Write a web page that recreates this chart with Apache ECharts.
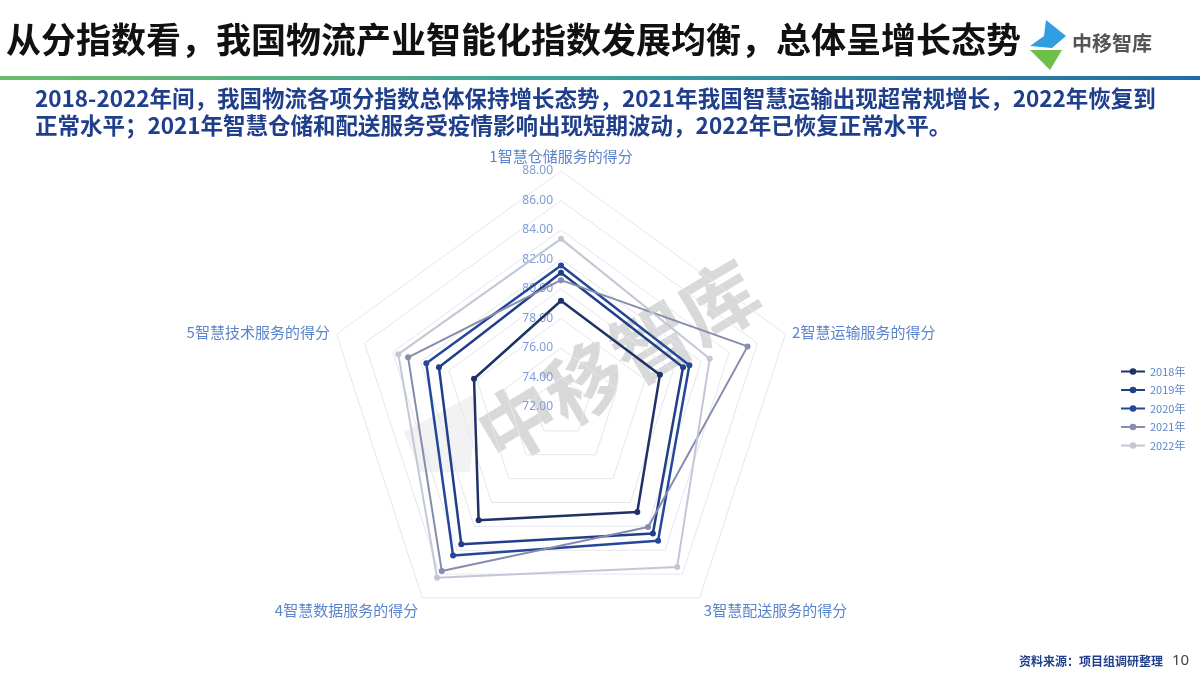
<!DOCTYPE html>
<html><head><meta charset="utf-8">
<script src="https://cdn.jsdelivr.net/npm/echarts@6/dist/echarts.min.js"></script>
<style>html,body{margin:0;padding:0;background:#fff}#c{width:1200px;height:675px}</style>
</head><body><div id="c"></div>
<script>
// ---- data ----
const indicatorNames = ['1智慧仓储服务的得分','2智慧运输服务的得分','3智慧配送服务的得分','4智慧数据服务的得分','5智慧技术服务的得分'];
const seriesNames = ['2018年','2019年','2020年','2021年','2022年'];
const v2018 = [79.2, 79.05, 80.8, 81.5, 78.2];
const v2019 = [81.1, 80.7, 82.6, 83.5, 80.7];
const v2020 = [81.6, 81.15, 83.2, 84.45, 81.6];
const v2021 = [80.6, 85.3, 82.05, 85.75, 82.9];
const v2022 = [83.4, 82.6, 85.4, 86.3, 83.6];
const axisMin = 72, axisMax = 88, axisStep = 2;
const titleText = '从分指数看，我国物流产业智能化指数发展均衡，总体呈增长态势';
const subLine1 = '2018-2022年间，我国物流各项分指数总体保持增长态势，2021年我国智慧运输出现超常规增长，2022年恢复到';
const subLine2 = '正常水平；2021年智慧仓储和配送服务受疫情影响出现短期波动，2022年已恢复正常水平。';
const sourceText = '资料来源：项目组调研整理';
const pageNo = '10';

// ---- styles ----
const colors = ['#1E3266','#213F87','#24479A','#868CAE','#C3C7D5'];
const widths = [2.5, 2.5, 2.5, 2, 2];
const allValues = [v2018, v2019, v2020, v2021, v2022];
// ECharts lays indicators counter-clockwise; reorder to get clockwise 1..5
const order = [0, 4, 3, 2, 1];
const bottomNames = [indicatorNames[2], indicatorNames[3]];
const indicator = order.map((i, k) => {
  const o = { name: indicatorNames[i], min: axisMin, max: axisMax };
  if (k === 0) o.axisLabel = { show: true };
  return o;
});
const chart = echarts.init(document.getElementById('c'));
const legendIcon = 'path://M0,4H22V6H0Z M11,2A3,3,0,1,1,11,8A3,3,0,1,1,11,2Z';
chart.setOption({
  backgroundColor: '#fff',
  animation: false,
  legend: {
    orient: 'vertical', left: 1116, top: 361, itemWidth: 24, itemHeight: 7, itemGap: 7.5,
    icon: legendIcon,
    textStyle: { color: '#5B84CC', fontSize: 11, fontFamily: 'Noto Sans CJK SC' },
    data: seriesNames
  },
  radar: {
    center: [561, 407], radius: 236, startAngle: 90,
    splitNumber: (axisMax - axisMin) / axisStep,
    shape: 'polygon',
    indicator: indicator,
    nameGap: 7,
    axisName: {
      color: '#5B84CC', fontSize: 15, fontFamily: 'Noto Sans CJK SC',
      formatter: (name) => bottomNames.indexOf(name) >= 0 ? '{b|' + name + '}' : '{s|' + name + '}',
      rich: {
        s: { color: '#5B84CC', fontSize: 15, fontFamily: 'Noto Sans CJK SC' },
        b: { color: '#5B84CC', fontSize: 15, fontFamily: 'Noto Sans CJK SC', padding: [14, 0, 0, 0] }
      }
    },
    splitLine: { lineStyle: { color: '#E4E7EF', width: 1 } },
    splitArea: { show: false },
    axisLine: { show: false },
    axisTick: { show: false },
    axisLabel: { show: false, color: '#7F9DD6', fontSize: 12, margin: 8, formatter: v => Number(v).toFixed(2), fontFamily: 'Noto Sans' }
  },
  graphic: [
    { type: 'text', left: 6, top: 22, z: 10, style: { text: titleText, fill: '#111', font: 'bold 35px "Noto Sans CJK SC"' } },
    { type: 'rect', left: 0, top: 76, z: 5, shape: { width: 1200, height: 4 },
      style: { fill: new echarts.graphic.LinearGradient(0, 0, 1, 0, [
        { offset: 0, color: '#6DBE6A' }, { offset: 0.45, color: '#3FA59A' }, { offset: 1, color: '#1F6DA8' }]) } },
    { type: 'text', left: 35, top: 87, z: 10, style: { text: subLine1, fill: '#1F3E8C', font: 'bold 22.5px "Noto Sans CJK SC"' } },
    { type: 'text', left: 35, top: 114, z: 10, style: { text: subLine2, fill: '#1F3E8C', font: 'bold 22.5px "Noto Sans CJK SC"' } },
    // logo
    { type: 'polygon', z: 10, shape: { points: [[1046,20],[1066,36],[1052,48],[1030,46],[1044,36]] }, style: { fill: '#2F9FE0' } },
    { type: 'polygon', z: 10, shape: { points: [[1030,50],[1062,50],[1050,70],[1040,60]] }, style: { fill: '#6CC04A' } },
    { type: 'text', left: 1072, top: 33, z: 10, style: { text: '中移智库', fill: '#555', font: 'bold 20px "Noto Sans CJK SC"' } },
    // watermark
    { type: 'text', x: 618, y: 362, rotation: Math.PI * 31 / 180, z: -1,
      style: { text: '中移智库', fill: 'rgba(120,120,120,0.28)', font: 'bold 78px "Noto Sans CJK SC"', align: 'center', verticalAlign: 'middle' } },
    { type: 'polygon', z: -1, shape: { points: [[478,392],[404,432],[420,472],[470,472]] }, style: { fill: 'rgba(150,150,150,0.12)' } },
    // source
    { type: 'text', left: 1019, top: 655, z: 10, style: { text: sourceText, fill: '#1F3E8C', font: 'bold 12px "Noto Sans CJK SC"' } },
    { type: 'text', left: 1172, top: 653, z: 10, style: { text: pageNo, fill: '#444', font: '15px "Noto Sans"' } }
  ],
  series: [{
    type: 'radar',
    z: 3,
    data: allValues.map((vals, i) => ({
      name: seriesNames[i],
      value: order.map(j => vals[j]),
      symbol: 'circle', symbolSize: 6,
      lineStyle: { color: colors[i], width: widths[i] },
      itemStyle: { color: colors[i] }
    }))
  }]
});
</script></body></html>
